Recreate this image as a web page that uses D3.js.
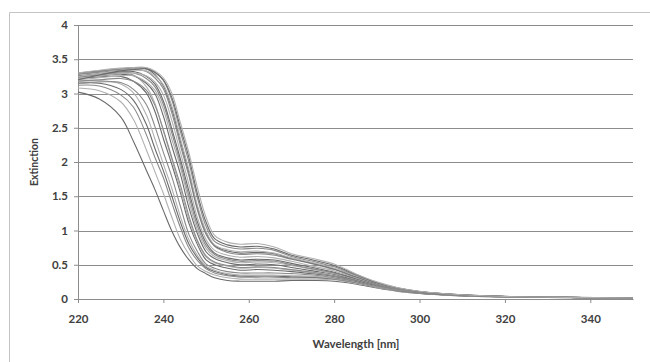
<!DOCTYPE html>
<html>
<head>
<meta charset="utf-8">
<script src="https://cdn.jsdelivr.net/npm/d3@7"></script>
<style>
  body { margin: 0; background: #fff; }
  svg { display: block; }
  .tick text { font-family: Lato, "Open Sans", sans-serif; font-weight: bold; font-size: 11.5px; fill: #404040; }
</style>
</head>
<body>
<div id="chart"></div>
<script>
// wavelength samples [nm]
const wavelengths = [220, 225, 230, 233, 236, 238, 240, 242, 244, 246, 248, 250, 252, 255, 258, 262, 266, 270, 275, 280, 285, 290, 295, 300, 310, 320, 335, 350];

// extinction spectra (left-most drop first)
const spectra = [
  [3.02, 2.92, 2.66, 2.30, 1.88, 1.60, 1.29, 0.99, 0.75, 0.57, 0.44, 0.37, 0.31, 0.27, 0.26, 0.26, 0.26, 0.27, 0.27, 0.26, 0.22, 0.16, 0.11, 0.08, 0.045, 0.03, 0.02, 0.01],
  [3.08, 3.04, 2.88, 2.62, 2.18, 1.86, 1.54, 1.19, 0.87, 0.65, 0.48, 0.40, 0.35, 0.31, 0.29, 0.29, 0.29, 0.29, 0.29, 0.28, 0.23, 0.17, 0.115, 0.082, 0.046, 0.031, 0.02, 0.011],
  [3.12, 3.11, 2.98, 2.80, 2.40, 2.07, 1.77, 1.40, 1.04, 0.74, 0.56, 0.44, 0.38, 0.34, 0.32, 0.32, 0.32, 0.31, 0.31, 0.29, 0.24, 0.175, 0.12, 0.085, 0.048, 0.032, 0.021, 0.012],
  [3.15, 3.15, 3.06, 2.90, 2.55, 2.20, 1.87, 1.50, 1.12, 0.80, 0.60, 0.46, 0.40, 0.355, 0.335, 0.335, 0.335, 0.325, 0.32, 0.295, 0.245, 0.178, 0.122, 0.086, 0.049, 0.032, 0.021, 0.012],
  [3.18, 3.19, 3.14, 3.01, 2.69, 2.34, 1.97, 1.61, 1.20, 0.86, 0.63, 0.48, 0.42, 0.37, 0.35, 0.35, 0.35, 0.34, 0.33, 0.30, 0.25, 0.18, 0.125, 0.088, 0.05, 0.033, 0.022, 0.012],
  [3.15, 3.17, 3.16, 3.06, 2.84, 2.52, 2.14, 1.78, 1.35, 0.94, 0.69, 0.51, 0.45, 0.40, 0.38, 0.38, 0.38, 0.37, 0.35, 0.31, 0.255, 0.185, 0.128, 0.09, 0.051, 0.034, 0.022, 0.013],
  [3.22, 3.24, 3.25, 3.18, 3.01, 2.74, 2.34, 1.96, 1.55, 1.10, 0.79, 0.57, 0.50, 0.45, 0.42, 0.43, 0.42, 0.40, 0.37, 0.33, 0.265, 0.19, 0.13, 0.092, 0.052, 0.034, 0.022, 0.013],
  [3.24, 3.27, 3.30, 3.27, 3.10, 2.86, 2.45, 2.03, 1.60, 1.16, 0.83, 0.61, 0.53, 0.48, 0.45, 0.46, 0.45, 0.42, 0.38, 0.34, 0.27, 0.19, 0.132, 0.093, 0.052, 0.034, 0.022, 0.013],
  [3.18, 3.20, 3.22, 3.18, 3.05, 2.83, 2.47, 2.06, 1.66, 1.21, 0.85, 0.63, 0.54, 0.49, 0.46, 0.47, 0.46, 0.43, 0.39, 0.34, 0.27, 0.195, 0.135, 0.094, 0.053, 0.034, 0.022, 0.013],
  [3.24, 3.26, 3.28, 3.26, 3.15, 3.00, 2.67, 2.23, 1.82, 1.33, 0.95, 0.69, 0.59, 0.53, 0.50, 0.51, 0.50, 0.46, 0.41, 0.36, 0.28, 0.20, 0.138, 0.096, 0.054, 0.035, 0.022, 0.013],
  [3.20, 3.23, 3.26, 3.26, 3.17, 3.05, 2.77, 2.33, 1.92, 1.42, 1.00, 0.74, 0.62, 0.56, 0.53, 0.54, 0.53, 0.49, 0.43, 0.37, 0.29, 0.205, 0.14, 0.098, 0.055, 0.035, 0.023, 0.013],
  [3.24, 3.27, 3.30, 3.30, 3.22, 3.10, 2.84, 2.42, 1.98, 1.50, 1.06, 0.78, 0.65, 0.58, 0.55, 0.56, 0.55, 0.50, 0.44, 0.38, 0.295, 0.208, 0.143, 0.099, 0.055, 0.035, 0.023, 0.013],
  [3.26, 3.29, 3.32, 3.32, 3.25, 3.14, 2.89, 2.48, 2.04, 1.57, 1.12, 0.82, 0.67, 0.60, 0.57, 0.58, 0.57, 0.52, 0.46, 0.39, 0.30, 0.21, 0.145, 0.10, 0.056, 0.036, 0.023, 0.013],
  [3.22, 3.26, 3.29, 3.30, 3.26, 3.17, 2.98, 2.60, 2.14, 1.67, 1.18, 0.87, 0.71, 0.64, 0.61, 0.62, 0.60, 0.55, 0.48, 0.41, 0.31, 0.215, 0.148, 0.102, 0.057, 0.036, 0.023, 0.013],
  [3.28, 3.31, 3.34, 3.35, 3.32, 3.23, 3.07, 2.71, 2.24, 1.79, 1.29, 0.94, 0.77, 0.68, 0.65, 0.66, 0.64, 0.58, 0.51, 0.43, 0.32, 0.22, 0.15, 0.104, 0.058, 0.037, 0.023, 0.013],
  [3.30, 3.33, 3.36, 3.38, 3.36, 3.28, 3.11, 2.77, 2.30, 1.84, 1.33, 0.97, 0.78, 0.70, 0.67, 0.68, 0.66, 0.59, 0.52, 0.44, 0.33, 0.225, 0.152, 0.105, 0.058, 0.037, 0.023, 0.013],
  [3.25, 3.29, 3.33, 3.34, 3.33, 3.26, 3.13, 2.81, 2.34, 1.88, 1.36, 0.99, 0.79, 0.72, 0.69, 0.70, 0.67, 0.60, 0.53, 0.45, 0.34, 0.23, 0.155, 0.106, 0.059, 0.037, 0.023, 0.013],
  [3.28, 3.32, 3.36, 3.37, 3.37, 3.31, 3.19, 2.90, 2.44, 1.99, 1.47, 1.06, 0.84, 0.76, 0.73, 0.74, 0.71, 0.62, 0.55, 0.47, 0.35, 0.235, 0.158, 0.108, 0.06, 0.037, 0.023, 0.013],
  [3.20, 3.27, 3.33, 3.35, 3.36, 3.31, 3.20, 2.94, 2.50, 2.06, 1.53, 1.12, 0.88, 0.79, 0.76, 0.77, 0.73, 0.64, 0.57, 0.49, 0.36, 0.24, 0.16, 0.11, 0.06, 0.038, 0.024, 0.014],
  [3.30, 3.34, 3.37, 3.38, 3.38, 3.33, 3.23, 3.00, 2.57, 2.13, 1.62, 1.19, 0.93, 0.83, 0.80, 0.81, 0.76, 0.66, 0.59, 0.51, 0.37, 0.25, 0.165, 0.112, 0.061, 0.038, 0.024, 0.014]
];

const xTicks = [220, 240, 260, 280, 300, 320, 340];
const yTicks = [0, 0.5, 1, 1.5, 2, 2.5, 3, 3.5, 4];

const width = 650, height = 362;
const margin = { top: 25, right: 17, bottom: 63, left: 78 };
const innerW = width - margin.left - margin.right;
const innerH = height - margin.top - margin.bottom;

const svg = d3.select("#chart")
  .append("svg")
  .attr("width", width)
  .attr("height", height);

// chart frame (cut off at right and bottom)
svg.append("path")
  .attr("d", "M9.5," + height + "V12.5H" + width)
  .attr("fill", "none")
  .attr("stroke", "#c4c4c4");

const g = svg.append("g")
  .attr("transform", "translate(" + margin.left + "," + margin.top + ")");

const x = d3.scaleLinear().domain([220, 350]).range([0, innerW]);
const y = d3.scaleLinear().domain([0, 4]).range([innerH, 0]);

// horizontal gridlines
g.append("g")
  .selectAll("line")
  .data(yTicks.filter(d => d > 0))
  .enter()
  .append("line")
  .attr("x1", 0)
  .attr("x2", innerW)
  .attr("y1", d => Math.round(y(d)) + 0.5)
  .attr("y2", d => Math.round(y(d)) + 0.5)
  .attr("stroke", "#8c8c8c");

// y axis
const yAxis = g.append("g")
  .call(d3.axisLeft(y).tickValues(yTicks).tickSize(4).tickPadding(6).tickFormat(d3.format("")));
yAxis.selectAll("line, path").attr("stroke", "#8c8c8c");

// x axis
const xAxis = g.append("g")
  .attr("transform", "translate(0," + innerH + ")")
  .call(d3.axisBottom(x).tickValues(xTicks).tickSize(4).tickPadding(12).tickSizeOuter(0));
xAxis.selectAll("line, path").attr("stroke", "#8c8c8c");

// spectra
const line = d3.line()
  .x((d, i) => x(wavelengths[i]))
  .y(d => y(d))
  .curve(d3.curveCatmullRom.alpha(0.5));

const shade = d3.scaleOrdinal().range(["#6a6a6a", "#b0b0b0", "#8a8a8a"]);

g.append("g")
  .selectAll("path")
  .data(spectra)
  .enter()
  .append("path")
  .attr("d", line)
  .attr("fill", "none")
  .attr("stroke", (d, i) => shade(i % 3))
  .attr("stroke-width", 1.1);

// axis titles
svg.append("text")
  .attr("x", 356)
  .attr("y", 348)
  .attr("text-anchor", "middle")
  .style("font-family", "Lato, 'Open Sans', sans-serif")
  .style("font-weight", "bold")
  .style("font-size", "11.5px")
  .attr("fill", "#404040")
  .text("Wavelength [nm]");

svg.append("text")
  .attr("transform", "translate(38,162) rotate(-90)")
  .attr("text-anchor", "middle")
  .style("font-family", "Lato, 'Open Sans', sans-serif")
  .style("font-weight", "bold")
  .style("font-size", "10.5px")
  .attr("fill", "#404040")
  .text("Extinction");
</script>
</body>
</html>
